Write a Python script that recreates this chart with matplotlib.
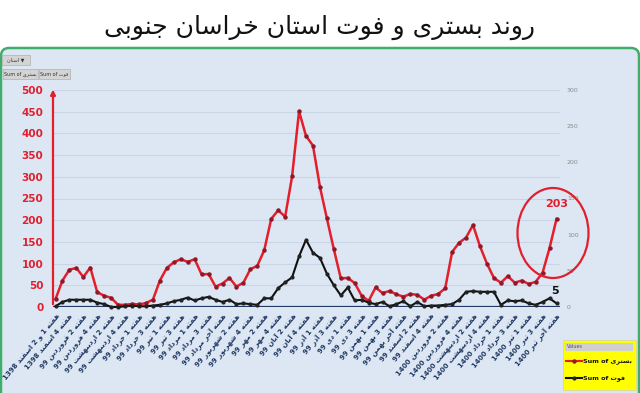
import matplotlib
matplotlib.use("Agg")
import matplotlib.pyplot as plt
from matplotlib.patches import Ellipse, FancyBboxPatch, Rectangle

# hospitalised (left axis) and deaths (right axis), one value per week
admitted = [18, 61, 86, 90, 69, 91, 34, 26, 21, 5, 5, 7, 6, 9, 17, 61, 90, 103, 110, 104,
            110, 75, 76, 47, 54, 67, 47, 56, 87, 95, 131, 203, 223, 208, 301, 451, 394, 372, 277, 204,
            133, 66, 67, 55, 26, 14, 45, 32, 37, 29, 24, 30, 28, 17, 26, 30, 43, 127, 148, 160,
            189, 140, 100, 67, 56, 71, 56, 61, 53, 58, 79, 136, 203]
deaths = [1, 7, 10, 10, 10, 10, 6, 4, 0, 0, 1, 2, 1, 1, 2, 3, 5, 8, 10, 13,
          9, 12, 14, 10, 7, 10, 4, 5, 4, 3, 12, 12, 26, 34, 41, 70, 93, 75, 68, 46,
          30, 16, 27, 9, 10, 6, 4, 7, 1, 4, 8, 1, 7, 1, 2, 2, 3, 4, 10, 21,
          22, 21, 21, 21, 3, 9, 8, 9, 5, 3, 7, 12, 5]

week_labels = ["هفته 1 و 2 اسفند 1398", "هفته 4 اسفند 1398", "هفته 2 فروردین 99", "هفته 4 فروردین 99",
               "هفته 2 اردیبهشت 99", "هفته 4 اردیبهشت 99", "هفته 1 خرداد 99", "هفته 3 خرداد 99",
               "هفته 1 تیر 99", "هفته 3 تیر 99", "هفته 1 مرداد 99", "هفته 3 مرداد 99",
               "هفته آخر مرداد 99", "هفته 2 شهریور 99", "هفته 4 شهریور 99", "هفته 2 مهر 99",
               "هفته 4 مهر 99", "هفته 2 آبان 99", "هفته 4 آبان 99", "هفته 1 آذر 99",
               "هفته 3 آذر 99", "هفته 1 دی 99", "هفته 3 دی 99", "هفته 1 بهمن 99",
               "هفته 3 بهمن 99", "هفته آخر بهمن 99", "هفته 2 اسفند 99", "هفته 4 اسفند 99",
               "هفته 2 فروردین 1400", "هفته 4 فروردین 1400", "هفته 2 اردیبهشت 1400",
               "هفته 4 اردیبهشت 1400", "هفته 1 خرداد 1400", "هفته 3 خرداد 1400",
               "هفته 1 تیر 1400", "هفته 3 تیر 1400", "هفته آخر تیر 1400"]

left_ticks = [0, 50, 100, 150, 200, 250, 300, 350, 400, 450, 500]
right_ticks = [0, 50, 100, 150, 200, 250, 300]

title = "روند بستری و فوت استان خراسان جنوبی"
name_admit = "بستری"
name_death = "فوت"

# matplotlib does no arabic shaping, so pick presentation forms by hand
DUAL = {
    "ب": (0xFE8F, 0xFE90, 0xFE91, 0xFE92), "ت": (0xFE95, 0xFE96, 0xFE97, 0xFE98),
    "ج": (0xFE9D, 0xFE9E, 0xFE9F, 0xFEA0), "خ": (0xFEA5, 0xFEA6, 0xFEA7, 0xFEA8),
    "س": (0xFEB1, 0xFEB2, 0xFEB3, 0xFEB4), "ش": (0xFEB5, 0xFEB6, 0xFEB7, 0xFEB8),
    "ف": (0xFED1, 0xFED2, 0xFED3, 0xFED4), "ل": (0xFEDD, 0xFEDE, 0xFEDF, 0xFEE0),
    "م": (0xFEE1, 0xFEE2, 0xFEE3, 0xFEE4), "ن": (0xFEE5, 0xFEE6, 0xFEE7, 0xFEE8),
    "ه": (0xFEE9, 0xFEEA, 0xFEEB, 0xFEEC), "ی": (0xFBFC, 0xFBFD, 0xFBFE, 0xFBFF),
}
RIGHT = {
    "ا": (0xFE8D, 0xFE8E), "آ": (0xFE81, 0xFE82), "د": (0xFEA9, 0xFEAA),
    "ذ": (0xFEAB, 0xFEAC), "ر": (0xFEAD, 0xFEAE), "ز": (0xFEAF, 0xFEB0),
    "و": (0xFEED, 0xFEEE),
}


def shape_word(w):
    out = []
    for k, c in enumerate(w):
        prev = w[k - 1] if k > 0 else ""
        nxt = w[k + 1] if k + 1 < len(w) else ""
        join_prev = prev in DUAL
        if c in DUAL:
            join_next = nxt in DUAL or nxt in RIGHT
            f = DUAL[c]
            if join_prev and join_next:
                out.append(chr(f[3]))
            elif join_prev:
                out.append(chr(f[1]))
            elif join_next:
                out.append(chr(f[2]))
            else:
                out.append(chr(f[0]))
        elif c in RIGHT:
            out.append(chr(RIGHT[c][1] if join_prev else RIGHT[c][0]))
        else:
            out.append(c)
    return "".join(out)[::-1]


def rtl(s):
    parts = []
    for t in s.split(" "):
        if any(ch in DUAL or ch in RIGHT for ch in t):
            parts.append(shape_word(t))
        else:
            parts.append(t)
    return " ".join(reversed(parts))


W, H = 640, 393
fig = plt.figure(figsize=(W / 100, H / 100), dpi=100)
fig.patch.set_facecolor("white")

# background layer in pixel coords
bg = fig.add_axes([0, 0, 1, 1], zorder=0)
bg.set_xlim(0, W)
bg.set_ylim(H, 0)
bg.axis("off")
bg.add_patch(FancyBboxPatch((1, 48), W - 2, H + 20, boxstyle="round,pad=0,rounding_size=8",
                            fc="#dde7f3", ec="#3fae6a", lw=1.8))
bg.text(W / 2, 27, rtl(title), ha="center", va="center", fontsize=18, color="#111111")

# pivot field buttons
bg.add_patch(Rectangle((2, 55), 28, 10, fc="#d4d4d4", ec="#b0b0b0", lw=0.5))
bg.text(16, 60, rtl("استان") + " ▼", ha="center", va="center", fontsize=3.5, color="#333333")
bg.add_patch(Rectangle((3, 69), 35, 10, fc="#d4d4d4", ec="#b0b0b0", lw=0.5))
bg.text(20.5, 74, "Sum of " + rtl(name_admit), ha="center", va="center", fontsize=3.5, color="#333333")
bg.add_patch(Rectangle((39, 69), 31, 10, fc="#d4d4d4", ec="#b0b0b0", lw=0.5))
bg.text(54.5, 74, "Sum of " + rtl(name_death), ha="center", va="center", fontsize=3.5, color="#333333")

# main chart area
x0, x1, ytop, ybot = 53, 560, 90, 307
ax = fig.add_axes([x0 / W, (H - ybot) / H, (x1 - x0) / W, (ybot - ytop) / H], zorder=2)
ax.patch.set_visible(False)
ax2 = ax.twinx()
ax2.patch.set_visible(False)

xs = list(range(len(admitted)))
ax.set_xlim(-0.36, 72.5)
ax.set_ylim(0, 500)
ax2.set_ylim(0, 300)

ax.plot(xs, admitted, color="#e41e2b", lw=1.8, marker="o", ms=2.2,
        mfc="#8c1a2a", mec="#8c1a2a", zorder=4, clip_on=False)
ax2.plot(xs, deaths, color="#111111", lw=1.5, marker="o", ms=2.0,
         mfc="#222222", mec="#222222", zorder=4, clip_on=False)

ax.set_yticks(left_ticks)
ax.set_yticklabels([str(v) for v in left_ticks], color="#e0202e", fontsize=7.5, fontweight="bold")
ax.tick_params(axis="y", length=0, pad=7)
ax.yaxis.grid(True, color="#c9d5e4", lw=0.8)
ax.set_axisbelow(True)

ax2.set_yticks(right_ticks)
ax2.set_yticklabels([str(v) for v in right_ticks], color="#8a8a8a", fontsize=4.5)
ax2.tick_params(axis="y", length=0, pad=5)

ax.set_xticks(xs[::2])
ax.set_xticklabels([rtl(s) for s in week_labels], rotation=50, ha="right", va="top",
                   rotation_mode="anchor", fontsize=5, fontweight="bold", color="#1f3864")
ax.tick_params(axis="x", length=0, pad=4)

for a in (ax, ax2):
    for s in a.spines.values():
        s.set_visible(False)

ax.axhline(0, color="#1f3864", lw=1.6, zorder=3)
ax.annotate("", xy=(0, 1.015), xytext=(0, 0), xycoords="axes fraction",
            arrowprops=dict(arrowstyle="-|>", color="#e41e2b", lw=1.6, mutation_scale=7))

ax.annotate(str(admitted[-1]), (xs[-1], admitted[-1]), xytext=(0, 7), textcoords="offset points",
            ha="center", va="bottom", color="#e0202e", fontsize=8, fontweight="bold")
ax2.annotate(str(deaths[-1]), (xs[-1], deaths[-1]), xytext=(-1, 5), textcoords="offset points",
             ha="center", va="bottom", color="#111111", fontsize=8, fontweight="bold")

# foreground layer: highlight ring and legend
fg = fig.add_axes([0, 0, 1, 1], zorder=3)
fg.set_xlim(0, W)
fg.set_ylim(H, 0)
fg.axis("off")
fg.patch.set_visible(False)
fg.add_patch(Ellipse((553, 233), 71, 90, fill=False, ec="#e0202e", lw=1.6))

fg.add_patch(Rectangle((563, 340), 73, 50, fc="#ffff00", ec="#d8d8a0", lw=0.6))
fg.add_patch(Rectangle((565, 343), 68, 8, fc="#d0d0d0", ec="none"))
fg.text(567, 347, "Values", ha="left", va="center", fontsize=3.5, color="#555555")
fg.plot([566, 582], [361, 361], color="#e41e2b", lw=1.5)
fg.plot([574], [361], marker="o", ms=2.2, color="#8c1a2a")
fg.text(583, 361, "Sum of " + rtl(name_admit), ha="left", va="center", fontsize=4.6,
        fontweight="bold", color="#111111")
fg.plot([566, 582], [378, 378], color="#111111", lw=1.5)
fg.plot([574], [378], marker="o", ms=2.0, color="#222222")
fg.text(583, 378, "Sum of " + rtl(name_death), ha="left", va="center", fontsize=4.6,
        fontweight="bold", color="#111111")

fig.savefig("out.png", dpi=100)
